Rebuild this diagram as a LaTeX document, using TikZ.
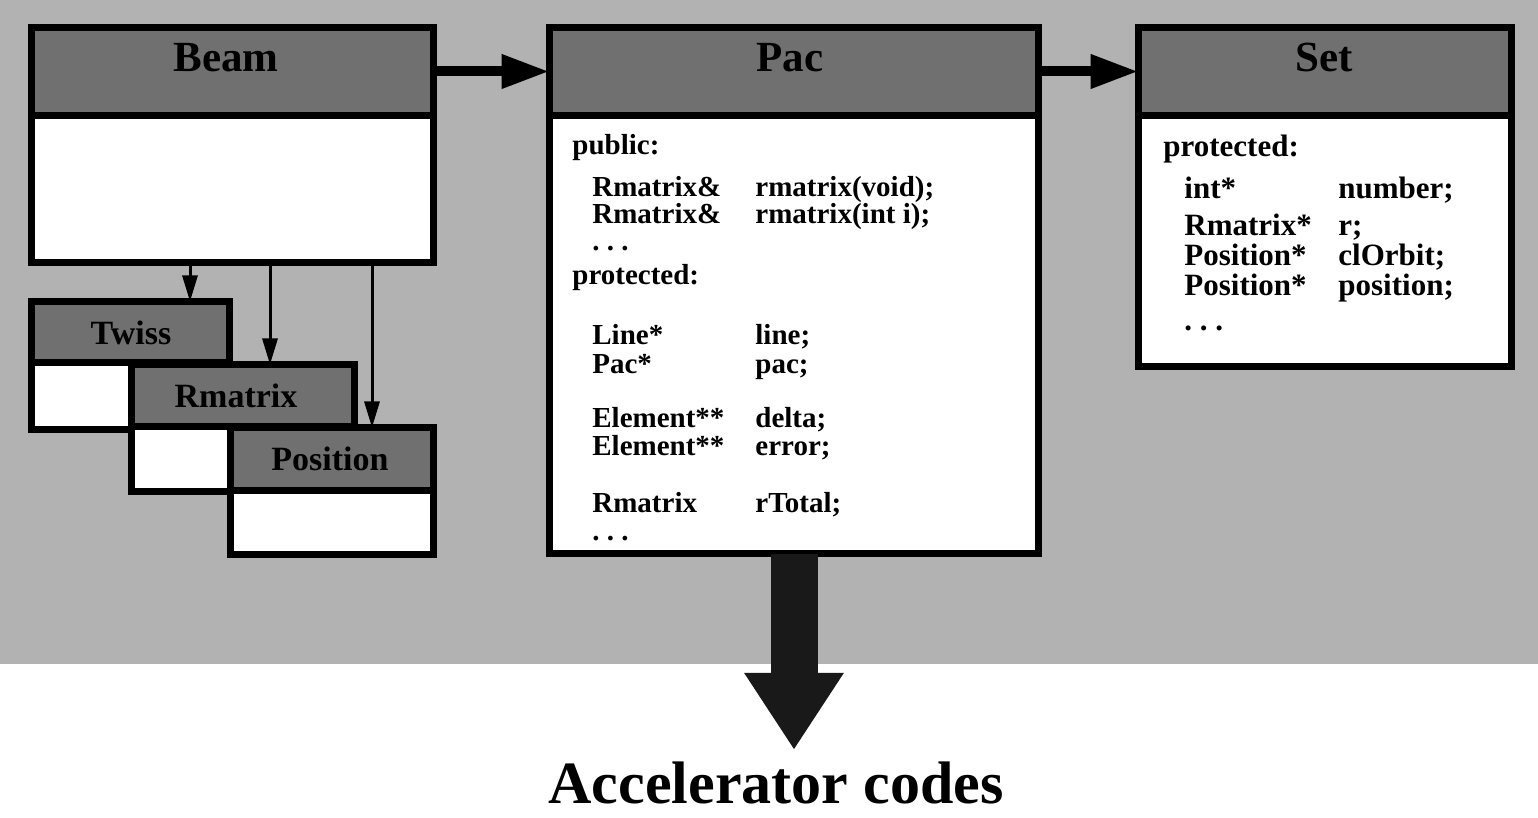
\documentclass[tikz,border=0pt]{standalone}
\usepackage{fontspec}
\setmainfont{Liberation Serif}
\usetikzlibrary{arrows.meta,fit}
\begin{document}
\begin{tikzpicture}[x=0.5pt,y=-0.5pt,
  cbox/.style={draw=black, line width=3.5pt, fill=white, inner sep=0pt, outer sep=0pt},
  hdr/.style={draw=black, line width=3.5pt, fill=black!56, inner sep=0pt, outer sep=0pt},
  htext/.style={anchor=base, inner sep=0pt, font=\fontsize{21.5pt}{21.5pt}\selectfont\bfseries},
  stext/.style={anchor=base, inner sep=0pt, font=\fontsize{17pt}{17pt}\selectfont\bfseries},
  code/.style={anchor=base west, inner sep=0pt, font=\fontsize{14.5pt}{14.5pt}\selectfont\bfseries},
  scode/.style={anchor=base west, inner sep=0pt, font=\fontsize{15.5pt}{15.5pt}\selectfont\bfseries},
  fat/.style={line width=5pt, -{Triangle[length=24pt,width=16pt]}},
  thinarr/.style={line width=1.5pt, -{Triangle[length=13pt,width=7.5pt]}},
  bigarr/.style={draw=black!90, line width=23.5pt, -{Triangle[length=38.5pt,width=47pt]}}
]
\useasboundingbox (0,0) rectangle (1538,818);
\fill[white] (0,0) rectangle (1538,818);
\fill[black!30] (0,0) rectangle (1538,664);

% Beam
\node[cbox, fit={(31.5,27.5) (433.5,262.5)}] (beam) {};
\node[hdr, fit={(31.5,27.5) (433.5,115.5)}] (beamh) {};
\node[htext] (beamt) at (226,72) {Beam};

% Pac
\node[cbox, fit={(549.5,27.5) (1038.5,553.5)}] (pac) {};
\node[hdr, fit={(549.5,27.5) (1038.5,115.5)}] (pach) {};
\node[htext] (pact) at (790,72) {Pac};

% Set
\node[cbox, fit={(1138.5,27.5) (1511.5,366.5)}] (set) {};
\node[hdr, fit={(1138.5,27.5) (1511.5,115.5)}] (seth) {};
\node[htext] (sett) at (1324,72) {Set};

% Twiss
\node[cbox, fit={(31.5,301.5) (229.5,429.5)}] (twiss) {};
\node[hdr, fit={(31.5,301.5) (229.5,363)}] (twissh) {};
\node[stext] (twisst) at (131,345) {Twiss};

% Rmatrix
\node[cbox, fit={(131.5,364.5) (354.5,491.5)}] (rmat) {};
\node[hdr, fit={(131.5,364.5) (354.5,427)}] (rmath) {};
\node[stext] (rmatt) at (236,408) {Rmatrix};

% Position
\node[cbox, fit={(230.5,427.5) (433.5,554.5)}] (pos) {};
\node[hdr, fit={(230.5,427.5) (433.5,490)}] (posh) {};
\node[stext] (post) at (330,470) {Position};

% Pac body
\node[code] (p1) at (572,155) {public:};
\node[code] (p2a) at (592,197) {Rmatrix\&};
\node[code] (p2b) at (755,197) {rmatrix(void);};
\node[code] (p3a) at (592,224) {Rmatrix\&};
\node[code] (p3b) at (755,224) {rmatrix(int i);};
\node[code] (p4) at (592,251) {.\ .\ .};
\node[code] (p5) at (572,285) {protected:};
\node[code] (p6a) at (592,345) {Line*};
\node[code] (p6b) at (755,345) {line;};
\node[code] (p7a) at (592,373) {Pac*};
\node[code] (p7b) at (755,373) {pac;};
\node[code] (p8a) at (592,428) {Element**};
\node[code] (p8b) at (755,428) {delta;};
\node[code] (p9a) at (592,455) {Element**};
\node[code] (p9b) at (755,455) {error;};
\node[code] (p10a) at (592,512) {Rmatrix};
\node[code] (p10b) at (755,512) {rTotal;};
\node[code] (p11) at (592,540) {.\ .\ .};

% Set body
\node[scode] (s1) at (1163,157) {protected:};
\node[scode] (s2a) at (1184,199) {int*};
\node[scode] (s2b) at (1338,199) {number;};
\node[scode] (s3a) at (1184,236) {Rmatrix*};
\node[scode] (s3b) at (1338,236) {r;};
\node[scode] (s4a) at (1184,266) {Position*};
\node[scode] (s4b) at (1338,266) {clOrbit;};
\node[scode] (s5a) at (1184,296) {Position*};
\node[scode] (s5b) at (1338,296) {position;};
\node[scode] (s6) at (1184,331) {.\ .\ .};

% Output
\node[anchor=base, inner xsep=0pt, inner ysep=5.5pt, font=\fontsize{30pt}{30pt}\selectfont\bfseries] (acc) at (776,803) {Accelerator codes};

% connectors
\draw[fat] (beamh.east) -- (pach.west);
\draw[fat] (pach.east) -- (seth.west);
\coordinate (c1) at (190,0);
\coordinate (c2) at (270,0);
\coordinate (c3) at (372,0);
\draw[thinarr] (beam.south -| c1) -- (twiss.north -| c1);
\draw[thinarr] (beam.south -| c2) -- (rmat.north -| c2);
\draw[thinarr] (beam.south -| c3) -- (pos.north -| c3);
\draw[bigarr] (pac.south) -- (acc.north -| pac.south);
\end{tikzpicture}
\end{document}
